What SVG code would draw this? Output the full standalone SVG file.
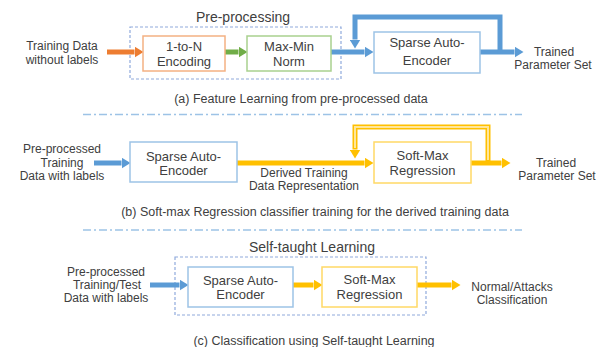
<svg xmlns="http://www.w3.org/2000/svg" width="610" height="347" viewBox="0 0 610 347">
<style>
text{font-family:"Liberation Sans",Arial,sans-serif;fill:#404040;text-anchor:middle}
.lbl{font-size:12px}
.box{font-size:13px}
.ttl{font-size:14px}
.cap{font-size:12.5px}
.node{fill:#fff;stroke-width:1.5}
.grp{fill:none;stroke:#8FAADC;stroke-width:1.2;stroke-dasharray:3 2}
.sep{fill:none;stroke:#9DC3E6;stroke-width:1.5;stroke-dasharray:8 3 2 3}
.a{fill:none;stroke-width:5}
</style>
<defs>
<marker id="mo" markerUnits="userSpaceOnUse" markerWidth="9" markerHeight="11" refX="0" refY="5.5" orient="auto"><path d="M0,0 L9,5.5 L0,11 z" fill="#ED7D31"/></marker>
<marker id="mg" markerUnits="userSpaceOnUse" markerWidth="9" markerHeight="11" refX="0" refY="5.5" orient="auto"><path d="M0,0 L9,5.5 L0,11 z" fill="#70AD47"/></marker>
<marker id="mb" markerUnits="userSpaceOnUse" markerWidth="9" markerHeight="11" refX="0" refY="5.5" orient="auto"><path d="M0,0 L9,5.5 L0,11 z" fill="#5B9BD5"/></marker>
<marker id="my" markerUnits="userSpaceOnUse" markerWidth="9" markerHeight="11" refX="0" refY="5.5" orient="auto"><path d="M0,0 L9,5.5 L0,11 z" fill="#FFC000"/></marker>
</defs>

<g id="separators">
<line class="sep" x1="83" y1="114.5" x2="522" y2="114.5"/>
<line class="sep" x1="83" y1="230" x2="522" y2="230"/>
</g>

<g id="groups">
<rect class="grp" x="130" y="27" width="211" height="52"/>
<text class="ttl" x="243" y="22">Pre-processing</text>
<rect class="grp" x="175" y="257" width="251" height="58"/>
<text class="ttl" x="312" y="252">Self-taught Learning</text>
</g>

<g id="connectors">
<line class="a" stroke="#ED7D31" x1="107" y1="52" x2="134.5" y2="52" marker-end="url(#mo)"/>
<line class="a" stroke="#70AD47" x1="225" y1="52" x2="238.5" y2="52" marker-end="url(#mg)"/>
<line class="a" stroke="#5B9BD5" x1="331" y1="52" x2="364.5" y2="52" marker-end="url(#mb)"/>
<line class="a" stroke="#5B9BD5" x1="480" y1="52" x2="514.5" y2="52" marker-end="url(#mb)"/>
<path class="a" stroke="#5B9BD5" d="M500,54 V17 H355 V39.5" marker-end="url(#mb)"/>

<line class="a" stroke="#5B9BD5" x1="94" y1="163" x2="121.5" y2="163" marker-end="url(#mb)"/>
<line class="a" stroke="#FFC000" x1="237" y1="163" x2="364.5" y2="163" marker-end="url(#my)"/>
<line class="a" stroke="#FFC000" x1="471" y1="163" x2="501.5" y2="163" marker-end="url(#my)"/>
<path class="a" stroke="#FFC000" stroke-width="6" d="M488,165 V127 H355 V149.5" marker-end="url(#my)"/>
<path fill="none" stroke="#FFE699" stroke-width="2" d="M488,160 V127 H355 V148"/>

<line class="a" stroke="#5B9BD5" x1="150" y1="285" x2="179.5" y2="285" marker-end="url(#mb)"/>
<line class="a" stroke="#FFC000" x1="293" y1="285" x2="313.5" y2="285" marker-end="url(#my)"/>
<line class="a" stroke="#FFC000" x1="417" y1="285" x2="451.5" y2="285" marker-end="url(#my)"/>
</g>

<g id="a-input">
<text class="lbl" x="62" y="50">Training Data</text>
<text class="lbl" x="62" y="64">without labels</text>
</g>
<g id="a-encoding">
<rect class="node" stroke="#F4B183" x="143" y="36" width="82" height="35"/>
<text class="box" x="184" y="51">1-to-N</text>
<text class="box" x="184" y="66">Encoding</text>
</g>
<g id="a-norm">
<rect class="node" stroke="#A9D18E" x="247" y="36" width="84" height="35"/>
<text class="box" x="289" y="51">Max-Min</text>
<text class="box" x="289" y="66">Norm</text>
</g>
<g id="a-sae">
<rect class="node" stroke="#9DC3E6" x="374" y="32" width="106" height="41"/>
<text class="box" x="427" y="47">Sparse Auto-</text>
<text class="box" x="427" y="65">Encoder</text>
</g>
<g id="a-output">
<text class="lbl" x="554" y="56">Trained</text>
<text class="lbl" x="553" y="69">Parameter Set</text>
</g>
<text class="cap" x="301" y="103">(a) Feature Learning from pre-processed data</text>

<g id="b-input">
<text class="lbl" x="62" y="153">Pre-processed</text>
<text class="lbl" x="62" y="167">Training</text>
<text class="lbl" x="62" y="180">Data with labels</text>
</g>
<g id="b-sae">
<rect class="node" stroke="#9DC3E6" x="130" y="142" width="107" height="40"/>
<text class="box" x="183.5" y="161">Sparse Auto-</text>
<text class="box" x="183.5" y="175">Encoder</text>
</g>
<g id="b-derived">
<text class="lbl" x="304" y="177">Derived Training</text>
<text class="lbl" x="304" y="190">Data Representation</text>
</g>
<g id="b-softmax">
<rect class="node" stroke="#FFD966" x="374" y="142" width="97" height="41"/>
<text class="box" x="422.5" y="160">Soft-Max</text>
<text class="box" x="422.5" y="175">Regression</text>
</g>
<g id="b-output">
<text class="lbl" x="556" y="167">Trained</text>
<text class="lbl" x="557" y="180">Parameter Set</text>
</g>
<text class="cap" x="315" y="216">(b) Soft-max Regression classifier training for the derived training data</text>

<g id="c-input">
<text class="lbl" x="106" y="276">Pre-processed</text>
<text class="lbl" x="107" y="289">Training/Test</text>
<text class="lbl" x="106" y="302">Data with labels</text>
</g>
<g id="c-sae">
<rect class="node" stroke="#9DC3E6" x="188" y="267" width="105" height="40"/>
<text class="box" x="240.5" y="284.5">Sparse Auto-</text>
<text class="box" x="240.5" y="298.5">Encoder</text>
</g>
<g id="c-softmax">
<rect class="node" stroke="#FFD966" x="322" y="267" width="95" height="40"/>
<text class="box" x="369.5" y="283.5">Soft-Max</text>
<text class="box" x="369.5" y="298.5">Regression</text>
</g>
<g id="c-output">
<text class="lbl" x="512" y="291">Normal/Attacks</text>
<text class="lbl" x="512" y="304">Classification</text>
</g>
<text class="cap" x="314" y="344.5">(c) Classification using Self-taught Learning</text>
</svg>
